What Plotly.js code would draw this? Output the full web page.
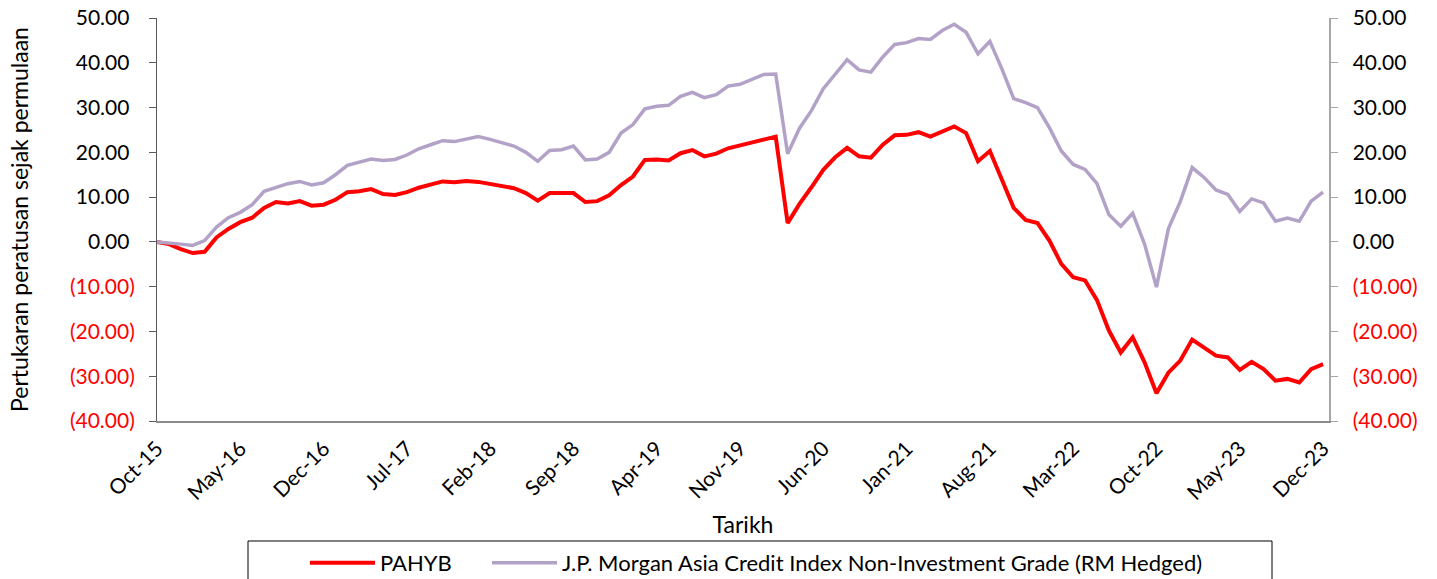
<!DOCTYPE html>
<html>
<head>
<meta charset="utf-8">
<script src="https://cdn.plot.ly/plotly-3.0.1.min.js"></script>
<style>
html,body{margin:0;padding:0;background:#fff;}
#chart{width:1437px;height:579px;}
</style>
</head>
<body>
<div id="chart"></div>
<script>
// Months Oct-15 .. Dec-23 (99 monthly observations)
const monthNames = ["Jan","Feb","Mar","Apr","May","Jun","Jul","Aug","Sep","Oct","Nov","Dec"];
const months = [];
for (let k = 0; k < 99; k++) {
  const m = (9 + k) % 12;
  const y = 15 + Math.floor((9 + k) / 12);
  months.push(monthNames[m] + "-" + y);
}

const tickLabels = ["Oct-15","May-16","Dec-16","Jul-17","Feb-18","Sep-18","Apr-19","Nov-19",
                    "Jun-20","Jan-21","Aug-21","Mar-22","Oct-22","May-23","Dec-23"];

const pahyb = [
  0, -0.5, -1.6, -2.5, -2.2, 1.0, 2.9, 4.4, 5.4, 7.6,
  8.9, 8.6, 9.1, 8.1, 8.3, 9.4, 11.1, 11.3, 11.8, 10.7,
  10.5, 11.1, 12.1, 12.8, 13.5, 13.3, 13.6, 13.4, 13.0, 12.4,
  12.0, 10.9, 9.2, 10.9, 10.8, 10.9, 8.9, 9.1, 10.4, 12.7,
  14.6, 18.3, 18.4, 18.2, 19.8, 20.5, 19.1, 19.7, 20.9, 21.5,
  22.1, 22.9, 23.5, 4.2, 8.5, 12.2, 16.1, 18.9, 21.0, 19.1,
  18.8, 21.7, 23.8, 23.9, 24.5, 23.5, 24.7, 25.8, 24.3, 18.0,
  20.3, 14.1, 7.6, 4.9, 4.2, 0.3, -4.9, -7.9, -8.6, -13.0,
  -19.8, -24.7, -21.3, -26.9, -33.8, -29.2, -26.5, -21.8, -23.6, -25.4,
  -25.8, -28.6, -26.8, -28.4, -31.0, -30.6, -31.4, -28.4, -27.3
];

const jpmNonIG = [
  0, -0.2, -0.5, -0.8, 0.3, 3.3, 5.4, 6.6, 8.3, 11.3,
  12.1, 13.0, 13.5, 12.7, 13.2, 15.0, 17.1, 17.8, 18.5, 18.2,
  18.4, 19.4, 20.8, 21.7, 22.6, 22.4, 23.0, 23.5, 22.9, 22.1,
  21.4, 20.0, 18.0, 20.4, 20.6, 21.4, 18.3, 18.5, 20.0, 24.3,
  26.2, 29.7, 30.3, 30.5, 32.5, 33.4, 32.2, 32.9, 34.8, 35.2,
  36.3, 37.4, 37.5, 19.7, 25.4, 29.3, 34.2, 37.5, 40.7, 38.4,
  37.9, 41.3, 44.1, 44.5, 45.4, 45.2, 47.2, 48.6, 46.8, 42.0,
  44.8, 38.7, 32.0, 31.1, 30.0, 25.5, 20.3, 17.3, 16.2, 13.0,
  6.1, 3.5, 6.4, -0.5, -10.1, 2.9, 9.0, 16.6, 14.4, 11.6,
  10.6, 6.8, 9.6, 8.7, 4.6, 5.3, 4.6, 9.1, 11.1
];

const yTickVals = [50, 40, 30, 20, 10, 0, -10, -20, -30, -40];
const yTickTextLeft = yTickVals.map(v => v >= 0
  ? v.toFixed(2) + "\u00A0"
  : '<span style="color:#FF0000">(' + Math.abs(v).toFixed(2) + ')</span>');
const yTickTextRight = yTickVals.map(v => v >= 0
  ? v.toFixed(2)
  : '<span style="color:#FF0000">(' + Math.abs(v).toFixed(2) + ')</span>');

const FONT = "Lato, 'Open Sans', sans-serif";

// plot-area pixel geometry for paper conversions
const L = 157, R = 1329, T = 18, B = 421;
const px2x = p => (p - L) / (R - L);
const px2y = p => (B - p) / (B - T);

const traces = [
  {x: months, y: pahyb, name: "PAHYB", type: "scatter", mode: "lines",
   line: {color: "#FF0000", width: 4}, xaxis: "x", yaxis: "y", legend: "legend"},
  {x: months, y: jpmNonIG, name: "J.P. Morgan Asia Credit Index Non-Investment Grade (RM Hedged)",
   type: "scatter", mode: "lines", line: {color: "#B3A2C7", width: 3.5}, xaxis: "x", yaxis: "y", legend: "legend2"}
];

// invisible trace to activate right axis
traces.push({x: [months[0]], y: [0], yaxis: "y2", xaxis: "x", type: "scatter", mode: "lines",
  showlegend: false, hoverinfo: "skip", line: {color: "rgba(0,0,0,0)"}});

const legendBase = {
  orientation: "h", xanchor: "left", yanchor: "middle", y: px2y(563),
  bgcolor: "rgba(0,0,0,0)", borderwidth: 0, itemwidth: 65,
  font: {family: FONT, size: 22, color: "#000"}
};

const layout = {
  width: 1437, height: 579,
  margin: {l: L, r: 1437 - R, t: T, b: 579 - B, autoexpand: false},
  paper_bgcolor: "#fff", plot_bgcolor: "#fff",
  font: {family: FONT, size: 20, color: "#000"},
  showlegend: true,
  xaxis: {
    type: "category", range: [0, 98.5], autorange: false, automargin: false,
    tickmode: "array", tickvals: tickLabels, ticktext: tickLabels,
    tickangle: -45, ticks: "", showgrid: false, zeroline: false,
    ticklabelstandoff: 5,
    showline: true, linecolor: "#8C8C8C", linewidth: 2,
    tickfont: {family: FONT, size: 21, color: "#000"},
    title: {text: "Tarikh", font: {family: FONT, size: 23, color: "#000"}, standoff: 14}
  },
  yaxis: {
    range: [-40, 50], autorange: false, automargin: false,
    tickmode: "array", tickvals: yTickVals, ticktext: yTickTextLeft,
    ticks: "outside", ticklen: 7, tickcolor: "#595959", tickwidth: 1,
    ticklabelstandoff: 10,
    showline: true, linecolor: "#595959", linewidth: 1,
    showgrid: false, zeroline: false,
    tickfont: {family: FONT, size: 21, color: "#000"},
    title: {text: "Pertukaran peratusan sejak permulaan", font: {family: FONT, size: 23, color: "#000"}, standoff: 34}
  },
  yaxis2: {
    range: [-40, 50], autorange: false, overlaying: "y", side: "right", automargin: false,
    tickmode: "array", tickvals: yTickVals, ticktext: yTickTextRight,
    ticks: "outside", ticklen: 7, tickcolor: "#A6A6A6", tickwidth: 1,
    ticklabelstandoff: 11,
    showline: true, linecolor: "#A6A6A6", linewidth: 1.5,
    showgrid: false, zeroline: false,
    tickfont: {family: FONT, size: 21, color: "#000"}
  },
  legend: Object.assign({}, legendBase, {x: px2x(305)}),
  legend2: Object.assign({}, legendBase, {x: px2x(487)}),
  shapes: [{
    type: "rect", xref: "paper", yref: "paper",
    x0: px2x(248), x1: px2x(1272), y0: px2y(541), y1: px2y(600),
    line: {color: "#000", width: 1}, fillcolor: "rgba(0,0,0,0)", layer: "below"
  }]
};

Plotly.newPlot("chart", traces, layout, {displayModeBar: false, staticPlot: true});
</script>
</body>
</html>
